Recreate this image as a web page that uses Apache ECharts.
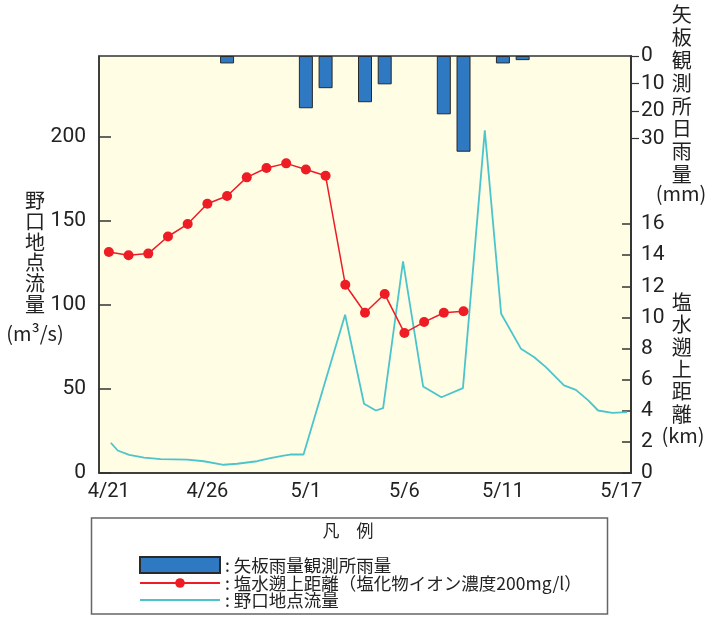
<!DOCTYPE html>
<html><head><meta charset="utf-8">
<script src="https://cdn.jsdelivr.net/npm/echarts@6/dist/echarts.min.js"></script>
<style>html,body{margin:0;padding:0;background:#fff}#c{width:705px;height:620px}</style>
</head><body><div id="c"></div>
<script>
// ---- data ----
const categories = ['4/21','4/22','4/23','4/24','4/25','4/26','4/27','4/28','4/29','4/30',
  '5/1','5/2','5/3','5/4','5/5','5/6','5/7','5/8','5/9','5/10','5/11','5/12','5/13','5/14','5/15','5/16','5/17'];
const xLabelDays = ['4/21','4/26','5/1','5/6','5/11','5/17'];
// daily rainfall at Yaita (mm)
const rainfall = [null,null,null,null,null,null,2.7,null,null,null,
  19.0,11.7,null,16.8,10.3,null,null,21.2,34.8,null,2.7,1.5,null,null,null,null,null];
// salt water intrusion distance (km)
const saltDistance = [14.2,14.0,14.1,15.2,16.0,17.3,17.8,19.0,19.6,19.9,
  19.5,19.1,12.1,10.3,11.5,9.0,9.7,10.3,10.4,null,null,null,null,null,null,null,null];
// flow at Noguchi (m3/s): time in days from 4/21, value
const flowTime  = [0.1,0.45,1.03,1.79,2.63,3.98,4.82,5.83,6.51,7.52,8.2,8.87,9.2,9.88,
  11.99,12.95,13.55,13.92,14.93,15.95,16.88,17.97,19.08,19.91,20.92,21.59,22.18,23.1,23.7,24.33,24.83,25.55,26.3];
const flowValue = [18.0,13.4,10.8,9.2,8.2,8.0,7.0,4.9,5.5,7.0,8.8,10.4,11.0,11.0,
  94.2,41.2,37.2,38.6,125.9,51.5,45.1,50.5,203.9,94.8,73.9,68.9,63.0,52.1,49.5,43.2,37.2,35.8,36.2];
const flowTicks = [0,50,100,150,200];
const rainTicks = [0,10,20,30];
const kmTicks = [0,2,4,6,8,10,12,14,16];

const NUM = "Roboto,'Liberation Sans',sans-serif";
const JP = "'Noto Sans CJK JP',sans-serif";
const AX = '#333';
const FLOW_MAX = 248.2, RAIN_MAX = 151.6, KM_MAX = 26.8;

const chart = echarts.init(document.getElementById('c'), null, {renderer:'canvas'});
const flowData = flowTime.map((t,i)=>[t, flowValue[i]]);

const G = {left:99, top:56, width:532, height:417};

const option = {
  animation:false,
  grid:{left:G.left,top:G.top,width:G.width,height:G.height,show:true,backgroundColor:'transparent',borderColor:AX,borderWidth:1.5},
  xAxis:[
    {type:'category',data:categories,boundaryGap:true,
     axisLine:{onZero:false,lineStyle:{color:AX,width:1.5}},
     axisTick:{alignWithLabel:true,interval:0,length:6,lineStyle:{color:AX,width:1.2}},
     axisLabel:{interval:(i,v)=>xLabelDays.includes(v),fontFamily:NUM,fontSize:20,color:'#222',margin:9},
     splitLine:{show:false}},
    {type:'value',min:-0.5,max:26.5,show:false,axisLine:{onZero:false}}
  ],
  yAxis:[
    {type:'value',min:0,max:FLOW_MAX,position:'left',
     axisLine:{show:true,onZero:false,lineStyle:{color:AX,width:1.5}},
     axisTick:{show:false},
     axisLabel:{customValues:flowTicks,fontFamily:NUM,fontSize:21,color:'#222',margin:13},
     splitLine:{show:false}},
    {type:'value',min:0,max:RAIN_MAX,inverse:true,position:'right',
     axisLine:{show:true,onZero:false,lineStyle:{color:AX,width:1.5}},
     axisTick:{show:true,inside:false,length:8,customValues:rainTicks,lineStyle:{color:AX,width:1.2}},
     axisLabel:{customValues:rainTicks,fontFamily:NUM,fontSize:21,color:'#222',margin:10},
     splitLine:{show:false}},
    {type:'value',min:0,max:KM_MAX,position:'right',
     axisLine:{show:true,onZero:false,lineStyle:{color:AX,width:1.5}},
     axisTick:{show:false},
     axisLabel:{customValues:kmTicks,fontFamily:NUM,fontSize:21,color:'#222',margin:10},
     splitLine:{show:false}},
    // tick-only helper axes, shifted into the plot so their outward ticks end on the frame
    {type:'value',min:0,max:FLOW_MAX,position:'left',offset:-12,
     axisLine:{show:false,onZero:false},
     axisTick:{show:true,inside:false,length:12,customValues:flowTicks,lineStyle:{color:AX,width:1.5}},
     axisLabel:{show:false},splitLine:{show:false}},
    {type:'value',min:0,max:KM_MAX,position:'right',offset:-9,
     axisLine:{show:false,onZero:false},
     axisTick:{show:true,inside:false,length:9,customValues:kmTicks,lineStyle:{color:AX,width:1.5}},
     axisLabel:{show:false},splitLine:{show:false}}
  ],
  legend:[
    {left:139,top:556,padding:0,orient:'vertical',selectedMode:false,itemWidth:80,itemHeight:16,icon:'rect',
     formatter:': {name}',textStyle:{fontFamily:JP,fontSize:17.5,lineHeight:18,color:'#222'},
     data:['矢板雨量観測所雨量']},
    {left:139,top:574,padding:0,orient:'vertical',selectedMode:false,itemWidth:80,itemHeight:12,
     formatter:': {name}',textStyle:{fontFamily:JP,fontSize:17.5,lineHeight:18,color:'#222'},
     data:['塩水遡上距離（塩化物イオン濃度200mg/l）']},
    {left:139,top:591,padding:0,orient:'vertical',selectedMode:false,itemWidth:80,itemHeight:12,
     itemStyle:{opacity:0},
     formatter:': {name}',textStyle:{fontFamily:JP,fontSize:17.5,lineHeight:18,color:'#222'},
     data:['野口地点流量']}
  ],
  graphic:[
    {type:'rect',z:-100,silent:true,shape:{x:G.left,y:G.top,width:G.width,height:G.height},style:{fill:'#fffde4'}},
    {type:'rect',z:-10,shape:{x:91.5,y:518,width:516,height:96},style:{fill:'#fff',stroke:'#666',lineWidth:1.5}},
    {type:'text',x:348,y:531,style:{text:'凡　例',font:"17px 'Noto Sans CJK JP'",fill:'#222',align:'center',verticalAlign:'middle'}},
    {type:'text',x:35,y:190.3,style:{text:'野\n口\n地\n点\n流\n量',font:"20px 'Noto Sans CJK JP'",lineHeight:20.7,fill:'#222',align:'center',verticalAlign:'top'}},
    {type:'text',x:35,y:333,style:{text:'(m³/s)',font:"20px 'Noto Sans CJK JP'",fill:'#222',align:'center',verticalAlign:'middle'}},
    {type:'text',x:681.7,y:3.5,style:{text:'矢\n板\n観\n測\n所\n日\n雨\n量',font:"20px 'Noto Sans CJK JP'",lineHeight:22.8,fill:'#222',align:'center',verticalAlign:'top'}},
    {type:'text',x:681,y:193.5,style:{text:'(mm)',font:"20px 'Noto Sans CJK JP'",fill:'#222',align:'center',verticalAlign:'middle'}},
    {type:'text',x:681.7,y:291.3,style:{text:'塩\n水\n遡\n上\n距\n離',font:"20px 'Noto Sans CJK JP'",lineHeight:22.3,fill:'#222',align:'center',verticalAlign:'top'}},
    {type:'text',x:683,y:435,style:{text:'(km)',font:"20px 'Noto Sans CJK JP'",fill:'#222',align:'center',verticalAlign:'middle'}}
  ],
  series:[
    {name:'矢板雨量観測所雨量',type:'bar',xAxisIndex:0,yAxisIndex:1,data:rainfall,barWidth:14,
     itemStyle:{color:'#2f78c2',borderColor:'#2a2a2a',borderWidth:1}},
    {name:'野口地点流量',type:'line',xAxisIndex:1,yAxisIndex:0,data:flowData,symbol:'none',
     lineStyle:{color:'#4cc4cc',width:1.8},itemStyle:{color:'#4cc4cc'}},
    {name:'塩水遡上距離（塩化物イオン濃度200mg/l）',type:'line',xAxisIndex:0,yAxisIndex:2,data:saltDistance,
     symbol:'circle',symbolSize:10,z:5,
     lineStyle:{color:'#ee1c24',width:1.5},itemStyle:{color:'#ee1c24'}}
  ]
};
chart.setOption(option);
</script></body></html>
